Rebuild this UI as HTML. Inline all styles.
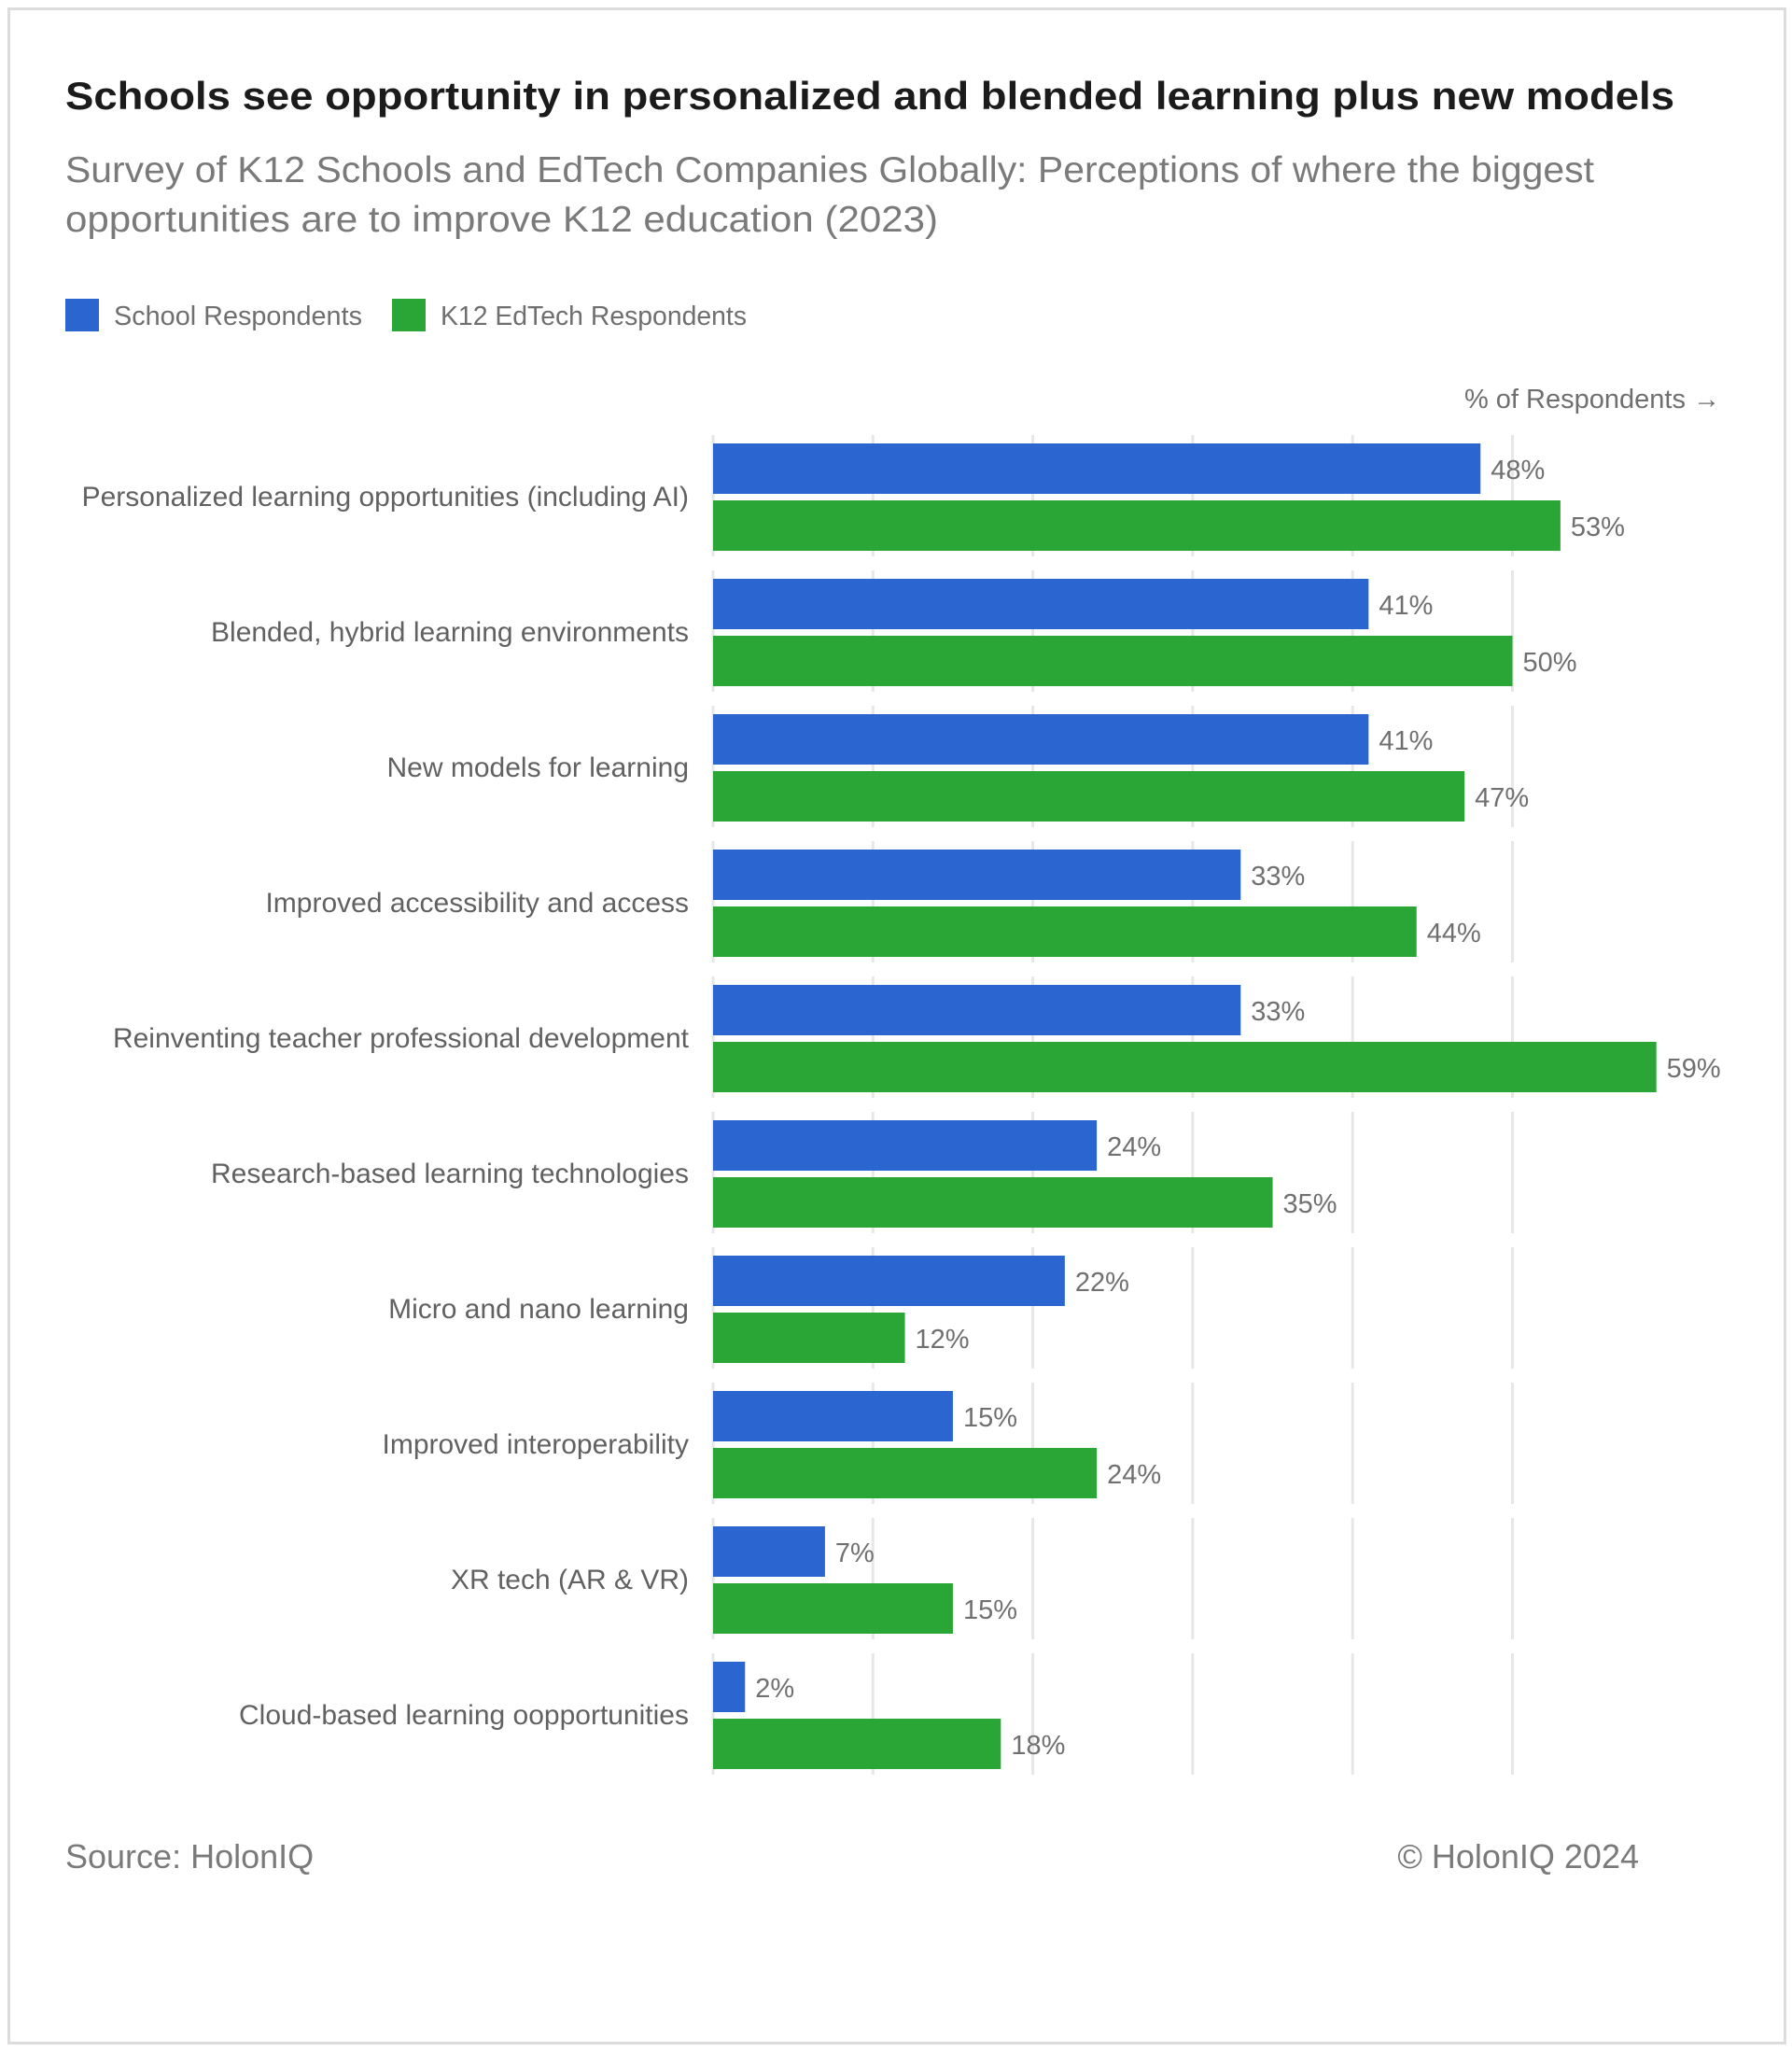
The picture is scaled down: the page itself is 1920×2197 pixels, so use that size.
<!DOCTYPE html>
<html><head><meta charset="utf-8"><style>
html,body{margin:0;padding:0;background:#fff;}
body{width:1920px;height:2197px;position:relative;overflow:hidden;font-family:"Liberation Sans",sans-serif;}
#frame{position:absolute;left:8px;top:8px;width:1900px;height:2176px;border:3px solid #dcdcdc;}
svg{position:absolute;left:0;top:0;}
</style></head><body>
<div id="frame"></div>
<svg id="chart" width="1920" height="2197">
<text x="70" y="117" font-size="42" font-weight="bold" fill="#1b1b1b" textLength="1724" lengthAdjust="spacingAndGlyphs">Schools see opportunity in personalized and blended learning plus new models</text>
<text x="70" y="195" font-size="39" fill="#7a7a7a" textLength="1638" lengthAdjust="spacingAndGlyphs">Survey of K12 Schools and EdTech Companies Globally: Perceptions of where the biggest</text>
<text x="70" y="248" font-size="39" fill="#7a7a7a" textLength="935" lengthAdjust="spacingAndGlyphs">opportunities are to improve K12 education (2023)</text>
<g>
<rect x="70" y="320" width="36" height="35" fill="#2b65cf"/>
<text x="122" y="348" font-size="29" fill="#6f6f6f" textLength="266" lengthAdjust="spacingAndGlyphs">School Respondents</text>
<rect x="420" y="320" width="36" height="35" fill="#2aa636"/>
<text x="472" y="348" font-size="29" fill="#6f6f6f" textLength="328" lengthAdjust="spacingAndGlyphs">K12 EdTech Respondents</text>
</g>
<text x="1843" y="437" font-size="29" fill="#6f6f6f" text-anchor="end">% of Respondents →</text>
<g id="grid"></g>
<g id="bars"></g>
<text x="70" y="2001" font-size="36" fill="#7a7a7a">Source: HolonIQ</text>
<text x="1756" y="2001" font-size="36" fill="#7a7a7a" text-anchor="end">© HolonIQ 2024</text>
</svg>
<script>
const categories = ["Personalized learning opportunities (including AI)","Blended, hybrid learning environments","New models for learning","Improved accessibility and access","Reinventing teacher professional development","Research-based learning technologies","Micro and nano learning","Improved interoperability","XR tech (AR & VR)","Cloud-based learning oopportunities"];
const schoolValues = [48,41,41,33,33,24,22,15,7,2];
const edtechValues = [53,50,47,44,59,35,12,24,15,18];
const gridTicks = [0,10,20,30,40,50];

const NS = "http://www.w3.org/2000/svg";
const x0 = 764, pxPerPct = 17.13, groupTop = 466, pitch = 145;
function xScale(v){ return x0 + v * pxPerPct; }
function yBand(i){ return groupTop + i * pitch; }
function mk(tag, attrs, parent){ const e = document.createElementNS(NS, tag); for (const k in attrs) e.setAttribute(k, attrs[k]); parent.appendChild(e); return e; }
const grid = document.getElementById('grid'), bars = document.getElementById('bars');
categories.forEach((c, i) => {
  const top = yBand(i);
  gridTicks.forEach(t => {
    const l = mk('line', {x1: xScale(t), x2: xScale(t), y1: top, y2: top + 130, stroke: '#e7e7e7', 'stroke-width': 3}, grid);
    
    
  });
  const lab = mk('text', {x: 738, y: top + 76, 'font-size': 30, fill: '#616161', 'text-anchor': 'end'}, bars);
  lab.textContent = c;
  
  
  const series = [[schoolValues[i], '#2b65cf', 9, 'school'], [edtechValues[i], '#2aa636', 70, 'edtech']];
  series.forEach(s => {
    const r = mk('rect', {x: x0, y: top + s[2], width: xScale(s[0]) - x0, height: 54, fill: s[1]}, bars);
    
    
    const v = mk('text', {x: xScale(s[0]) + 11, y: top + s[2] + 38, 'font-size': 29, fill: '#707070'}, bars);
    v.textContent = s[0] + '%';
    
    
  });
});
</script>
</body></html>
